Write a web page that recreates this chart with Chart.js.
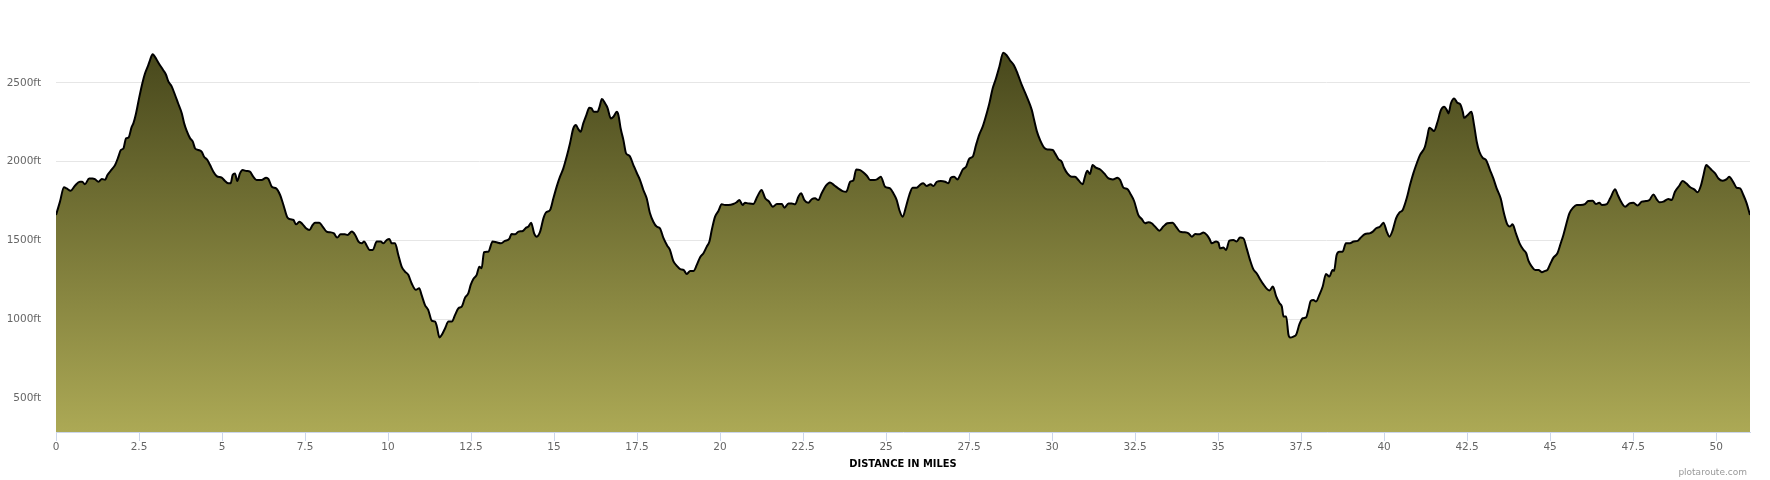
<!DOCTYPE html>
<html>
<head>
<meta charset="utf-8">
<script src="https://cdn.jsdelivr.net/npm/chart.js@4.4.1/dist/chart.umd.min.js"></script>
<style>
html,body{margin:0;padding:0;background:#ffffff;}
canvas{display:block;}
</style>
</head>
<body>
<canvas id="c" width="1770" height="480"></canvas>
<script>
// ---- data (distance in miles, elevation in feet) ----
const distanceMiles = [
0.00,0.12,0.24,0.32,0.44,0.57,0.72,0.79,0.87,1.00,1.10,1.17,1.28,1.38,1.48,1.55,1.68,1.78,1.88,1.95,
2.03,2.11,2.18,2.28,2.33,2.41,2.51,2.61,2.68,2.78,2.83,2.91,2.98,3.08,3.23,3.31,3.38,3.48,3.58,3.68,
3.79,3.86,3.94,4.04,4.12,4.19,4.29,4.39,4.46,4.56,4.64,4.74,4.84,4.99,5.09,5.19,5.26,5.32,5.39,5.46,
5.54,5.62,5.74,5.84,5.94,6.04,6.19,6.33,6.40,6.50,6.63,6.75,6.85,6.97,7.07,7.15,7.23,7.33,7.43,7.53,
7.63,7.73,7.80,7.93,8.03,8.15,8.25,8.37,8.47,8.57,8.70,8.78,8.91,9.01,9.11,9.21,9.28,9.36,9.44,9.54,
9.66,9.78,9.86,9.96,10.04,10.11,10.21,10.31,10.41,10.51,10.61,10.71,10.84,10.94,11.01,11.11,11.21,11.32,11.42,11.47,
11.55,11.62,11.72,11.82,11.92,12.02,12.12,12.22,12.32,12.42,12.49,12.57,12.67,
12.75,12.82,12.89,13.02,13.15,13.27,13.39,13.52,13.65,13.72,13.83,13.93,14.06,14.16,14.23,14.31,14.40,14.48,14.58,14.68,
14.76,14.88,14.98,15.08,15.18,15.28,15.38,15.48,15.58,15.66,15.73,15.80,15.88,15.98,16.06,16.13,16.20,16.31,16.37,16.44,
16.54,16.61,16.71,16.79,16.89,16.94,17.01,17.09,17.17,17.27,17.39,17.49,17.59,17.69,17.79,17.89,17.99,18.09,18.19,18.29,
18.41,18.49,18.59,18.69,18.80,18.90,19.00,19.10,19.20,19.30,19.40,19.50,19.60,19.68,19.75,19.85,19.95,20.05,20.15,20.25,
20.40,20.50,20.58,20.68,20.75,20.85,21.00,21.12,21.25,21.36,21.46,21.59,21.71,21.86,21.94,22.06,22.16,22.26,22.36,22.44,
22.54,22.66,22.76,22.86,22.96,23.06,23.19,23.31,23.43,23.56,23.69,23.80,23.92,24.02,24.10,24.22,24.32,24.42,24.52,24.64,
24.74,24.84,24.97,25.12,
25.22,25.32,25.40,25.50,25.60,25.70,25.80,25.92,26.04,26.12,26.22,26.34,26.43,26.53,26.65,26.78,26.88,26.95,27.05,27.15,
27.23,27.31,27.41,27.51,27.61,27.71,27.81,27.91,28.03,28.11,28.21,28.31,28.41,28.53,28.63,28.73,28.85,28.96,29.09,29.24,
29.39,29.46,29.54,29.64,29.76,29.86,30.02,30.09,30.19,30.29,30.36,30.46,30.59,30.69,30.79,30.92,30.99,31.06,31.14,31.22,
31.32,31.45,31.57,31.70,31.83,31.97,32.05,32.15,32.27,32.35,32.47,32.60,32.70,32.80,32.90,33.00,33.10,33.23,33.35,33.47,
33.63,33.73,33.85,33.98,34.11,34.21,34.31,34.44,34.56,34.66,34.74,34.81,34.94,35.01,35.06,35.16,35.24,35.34,35.46,35.56,
35.66,35.76,35.86,35.96,36.06,36.16,36.26,36.36,36.47,36.55,36.65,36.75,36.85,36.92,36.97,37.05,37.12,37.17,37.27,37.35,
37.45,37.55,37.65,37.72,37.79,
37.87,37.95,38.05,38.15,38.25,38.35,38.45,38.49,38.57,38.65,38.75,38.85,38.97,39.08,39.20,39.28,39.43,39.56,39.66,39.76,
39.88,39.98,40.08,40.16,40.26,40.36,40.46,40.56,40.68,40.78,40.88,41.00,41.08,41.23,41.30,41.36,41.43,41.50,41.61,41.71,
41.81,41.89,41.94,42.01,42.11,42.21,42.29,42.37,42.41,42.51,42.63,42.71,42.79,42.87,42.97,43.07,43.19,43.29,43.39,43.51,
43.61,43.71,43.79,43.87,43.97,44.08,44.20,44.28,44.35,44.45,44.55,44.65,44.75,44.85,44.92,45.00,45.10,45.22,45.32,45.40,
45.48,45.58,45.70,45.80,45.92,46.05,46.15,46.28,46.38,46.48,46.56,46.71,46.81,46.96,47.03,47.11,47.26,47.39,47.51,47.63,
47.76,47.89,47.99,48.11,48.21,48.29,48.41,48.56,48.66,48.76,48.89,48.99,49.10,49.22,49.34,49.44,49.54,49.62,49.70,49.77,
49.87,49.97,50.07,50.20,50.32,50.39,50.52,50.62,50.72,50.82,50.92,51.02
];

const elevationFt = [
1662,1747,1838,1831,1816,1848,1873,1873,1857,1894,1894,1890,1873,1890,1886,1916,1951,1979,2032,2074,
2084,2148,2152,2221,2243,2306,2411,2506,2559,2612,2643,2681,2665,2629,2580,2553,2511,2479,2426,2369,
2306,2243,2194,2148,2127,2084,2074,2063,2032,2011,1979,1937,1909,1899,1878,1863,1863,1916,1926,1878,
1926,1947,1941,1937,1905,1884,1884,1899,1890,1842,1831,1789,1726,1646,1635,1631,1603,1620,1603,1578,
1567,1599,1614,1614,1589,1557,1553,1546,1519,1540,1540,1536,1557,1536,1494,1483,1494,1468,1441,1441,
1494,1494,1483,1504,1511,1483,1483,1409,1335,1304,1283,1230,1188,1198,1156,1093,1061,992,987,956,
886,903,945,987,987,1029,1072,1082,1139,1167,1219,1257,1283,
1335,1325,1426,1430,1494,1489,1483,1498,1511,1542,1540,1557,1561,1582,1589,1614,1546,1525,1557,1641,
1679,1694,1768,1842,1905,1958,2032,2116,2211,2232,2207,2190,2243,2300,2342,2338,2316,2316,2348,2397,
2369,2342,2274,2285,2316,2295,2207,2137,2053,2038,1979,1930,1884,1821,1768,1673,1620,1589,1578,1519,
1468,1441,1371,1342,1319,1314,1289,1308,1308,1346,1395,1420,1462,1494,1567,1652,1688,1730,1726,1726,
1732,1743,1757,1726,1740,1736,1732,1778,1821,1768,1751,1715,1732,1732,1709,1736,1736,1730,1778,1800,
1757,1740,1762,1768,1757,1800,1848,1869,1852,1831,1814,1810,1873,1884,1951,1947,1932,1911,1884,1884,
1890,1905,1842,1831,
1800,1757,1694,1652,1715,1789,1835,1835,1857,1863,1846,1857,1846,1873,1878,1873,1863,1899,1905,1888,
1916,1951,1968,2021,2032,2106,2173,2222,2306,2369,2464,2527,2601,2690,2675,2643,2612,2559,2485,2411,
2327,2264,2194,2137,2089,2078,2074,2053,2017,2000,1962,1926,1905,1905,1884,1857,1905,1943,1922,1979,
1962,1951,1926,1894,1888,1899,1884,1835,1827,1800,1751,1662,1637,1610,1616,1610,1589,1563,1589,1610,
1614,1589,1557,1553,1546,1525,1542,1540,1551,1536,1511,1483,1494,1487,1451,1456,1441,1500,1504,1494,
1519,1515,1451,1378,1319,1293,1257,1224,1194,1184,1209,1146,1103,1082,1019,1019,903,886,892,903,
970,1008,1013,1061,1118,
1124,1114,1156,1209,1289,1272,1314,1308,1409,1430,1430,1483,1483,1494,1498,1515,1542,1546,1557,1578,
1589,1614,1557,1525,1567,1641,1677,1694,1768,1852,1926,2000,2042,2095,2158,2215,2207,2194,2253,2327,
2348,2327,2306,2369,2401,2373,2365,2316,2278,2295,2316,2232,2127,2063,2025,2011,1947,1894,1831,1768,
1673,1603,1589,1603,1546,1483,1441,1420,1371,1335,1314,1314,1300,1308,1314,1350,1392,1420,1483,1536,
1599,1673,1711,1726,1726,1732,1751,1753,1732,1740,1726,1732,1768,1825,1793,1757,1715,1736,1740,1722,
1747,1751,1757,1793,1762,1743,1747,1764,1757,1810,1848,1878,1863,1838,1825,1806,1848,1916,1979,1968,
1947,1926,1894,1880,1890,1905,1869,1835,1831,1789,1736,1662
];

const xTickValues = [0,2.5,5,7.5,10,12.5,15,17.5,20,22.5,25,27.5,30,32.5,35,37.5,40,42.5,45,47.5,50];
const yTickValues = [500,1000,1500,2000,2500];
const xAxisTitle = 'DISTANCE IN MILES';
const creditText = 'plotaroute.com';
const yUnit = 'ft';
const xRange = [0, 51.02];
const yRange = [287, 2890];

// ---- chart ----
const points = distanceMiles.map((d, i) => ({x: d, y: elevationFt[i]}));
const peak = Math.max(...elevationFt);

const creditPlugin = {
  id: 'credit',
  afterDraw(chart) {
    const c = chart.ctx;
    c.save();
    c.font = '9px "DejaVu Sans", sans-serif';
    c.fillStyle = '#999999';
    c.textAlign = 'right';
    c.textBaseline = 'middle';
    c.fillText(creditText, chart.width - 23, chart.height - 7);
    c.restore();
  }
};

new Chart(document.getElementById('c'), {
  type: 'line',
  data: {
    datasets: [{
      data: points,
      borderColor: '#000000',
      borderWidth: 2,
      pointRadius: 0,
      cubicInterpolationMode: 'monotone',
      fill: 'start',
      backgroundColor: (ctx) => {
        const chart = ctx.chart;
        const area = chart.chartArea;
        if (!area) return '#7a7a3a';
        const top = chart.scales.y.getPixelForValue(peak);
        const g = chart.ctx.createLinearGradient(0, top, 0, area.bottom);
        g.addColorStop(0, '#48481c');
        g.addColorStop(1, '#aca955');
        return g;
      }
    }]
  },
  options: {
    responsive: false,
    animation: false,
    layout: { padding: { top: 20, right: 20, left: 0, bottom: 0 } },
    plugins: { legend: { display: false }, tooltip: { enabled: false }, title: { display: false } },
    scales: {
      x: {
        type: 'linear',
        min: xRange[0],
        max: xRange[1],
        afterBuildTicks: (s) => { s.ticks = xTickValues.map(v => ({ value: v })); },
        afterFit: (s) => { s.height = 48; },
        grid: { drawOnChartArea: false, drawTicks: true, tickLength: 9, color: '#ccd6eb', lineWidth: 1 },
        border: { display: true, color: '#ccd6eb', width: 1 },
        ticks: {
          color: '#666666',
          font: { family: '"DejaVu Sans", sans-serif', size: 10.5 },
          padding: 0,
          maxRotation: 0,
          autoSkip: false,
          callback: (v) => String(v)
        },
        title: {
          display: true,
          text: xAxisTitle,
          color: '#000000',
          font: { family: '"DejaVu Sans Condensed", "DejaVu Sans", sans-serif', size: 11, weight: 'bold' },
          padding: { top: 0, bottom: 9 }
        }
      },
      y: {
        min: yRange[0],
        max: yRange[1],
        afterBuildTicks: (s) => { s.ticks = yTickValues.map(v => ({ value: v })); },
        afterFit: (s) => { s.width = 56; },
        grid: { color: '#e6e6e6', drawTicks: false, lineWidth: 1 },
        border: { display: false },
        ticks: {
          color: '#666666',
          font: { family: '"DejaVu Sans", sans-serif', size: 10.5 },
          padding: 15,
          callback: (v) => v + yUnit
        }
      }
    }
  },
  plugins: [creditPlugin]
});
</script>
</body>
</html>
